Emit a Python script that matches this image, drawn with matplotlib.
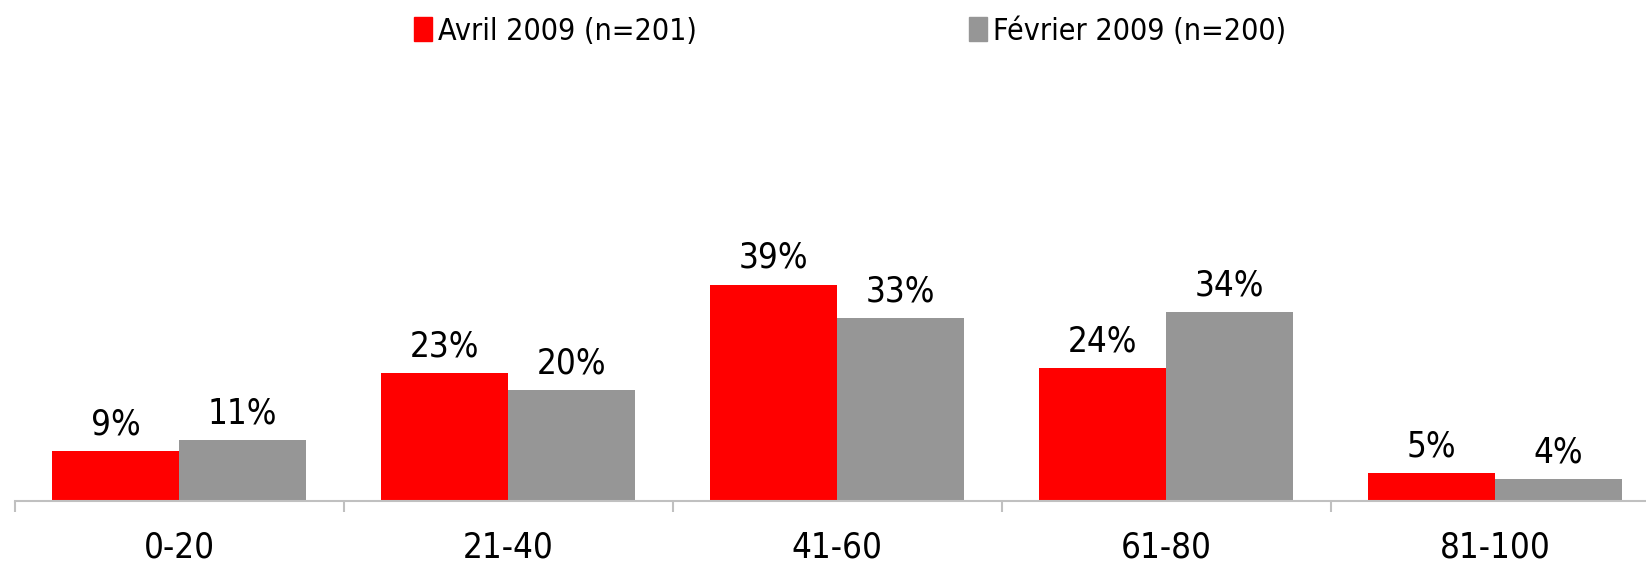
import matplotlib.pyplot as plt
import numpy as np
from matplotlib.patches import Patch

categories = ["0-20", "21-40", "41-60", "61-80", "81-100"]
avril = [9, 23, 39, 24, 5]
fevrier = [11, 20, 33, 34, 4]
series_names = ["Avril 2009 (n=201)", "Février 2009 (n=200)"]

plt.rcParams['font.family'] = 'DejaVu Sans'
plt.rcParams['font.stretch'] = 'condensed'

fig = plt.figure(figsize=(16.46, 5.63), dpi=100)
ax = fig.add_axes([14.7 / 1646, 62 / 563, 1645 / 1646, 501 / 563])

x = np.arange(len(categories))
w = 127 / 329
b1 = ax.bar(x - w / 2, avril, w, color="#FF0000")
b2 = ax.bar(x + w / 2, fevrier, w, color="#969696")

for bars, vals in [(b1, avril), (b2, fevrier)]:
    for rect, v in zip(bars, vals):
        ax.annotate(f"{v}%", (rect.get_x() + rect.get_width() / 2, rect.get_height()),
                    xytext=(0, 7), textcoords="offset points",
                    ha="center", va="bottom", fontsize=25)

ax.set_xlim(-0.5, len(categories) - 0.5)
ax.set_ylim(0, 90.3)

for s in ["top", "right", "left"]:
    ax.spines[s].set_visible(False)
ax.spines["bottom"].set_color("#C0C0C0")
ax.spines["bottom"].set_linewidth(1.5)
ax.set_yticks([])

ax.set_xticks(x)
ax.set_xticklabels(categories, fontsize=25)
ax.tick_params(axis="x", which="major", length=0, pad=21)
ax.set_xticks(np.arange(len(categories) + 1) - 0.5, minor=True)
ax.tick_params(axis="x", which="minor", length=8, color="#C0C0C0", width=1.5)

handles = [Patch(color="#FF0000"), Patch(color="#969696")]
fig.legend(handles, series_names, loc="center", bbox_to_anchor=(850 / 1646, 1 - 31 / 563),
           ncol=2, frameon=False, fontsize=21.8, handlelength=0.58, handleheight=0.8,
           handletextpad=0.2, columnspacing=9.0)

fig.savefig("out.png", dpi=100)
